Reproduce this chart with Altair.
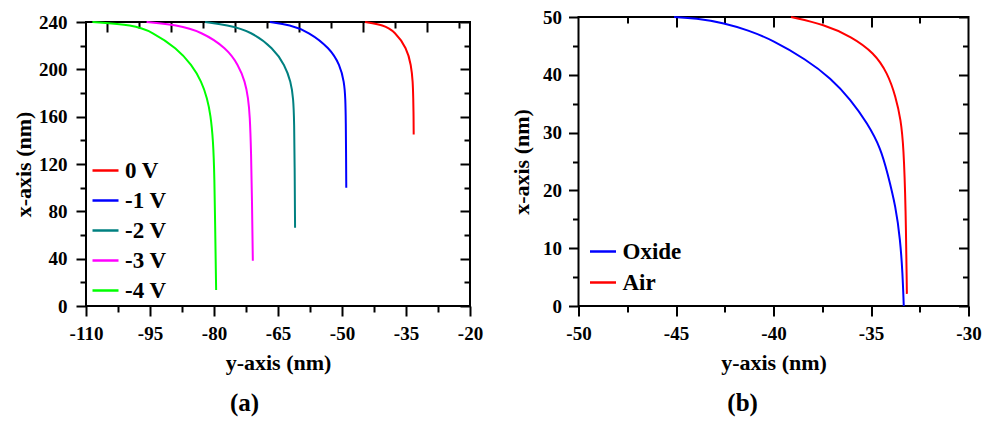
import altair as alt
import pandas as pd

FONT = "Liberation Serif"

# ---------------- Panel (a) data ----------------
series_a = ["0 V", "-1 V", "-2 V", "-3 V", "-4 V"]
colors_a = ["#FF0000", "#0000FF", "#008080", "#FF00FF", "#00FF00"]

a0_y = [-44.6, -40.3, -37.6, -34.8, -33.8, -33.4, -33.3, -33.22, -33.2]
a0_x = [240, 237.5, 231.9, 217.8, 203.7, 189.6, 175.6, 160, 145]

a1_y = [-66.9, -62.2, -57.9, -52.8, -50.5, -49.5, -49.2, -49.1, -49.05, -49.0]
a1_x = [240, 237.5, 231.9, 217.8, 203.7, 189.6, 175.6, 155, 130, 100]

a2_y = [-82.1, -77.0, -71.2, -66.1, -63.4, -62.0, -61.4, -61.2, -61.1, -61.0]
a2_x = [240, 237.5, 231.9, 217.8, 203.7, 189.6, 175.6, 155, 120, 66.2]

a3_y = [-95.8, -88.7, -83.0, -77.0, -74.3, -72.7, -72.0, -71.6, -71.3, -71.1, -70.9]
a3_x = [240, 237.5, 231.9, 217.8, 203.7, 189.6, 175.6, 161.5, 130, 90, 38.3]

a4_y = [-108.5, -98.9, -94.6, -88.7, -85.2, -82.9, -81.6, -80.8, -80.2, -79.9, -79.7, -79.5]
a4_x = [240, 237.5, 231.9, 217.8, 203.7, 189.6, 175.6, 161.5, 140, 110, 60, 13.5]

# ---------------- Panel (b) data ----------------
series_b = ["Oxide", "Air"]
colors_b = ["#0000FF", "#FF0000"]

ox_y = [-45.1, -44.0, -42.5, -41.3, -40.1, -38.3, -37.06, -36.04, -35.18, -34.5, -34.15, -33.73, -33.5, -33.38, -33.32]
ox_x = [50, 49.8, 48.95, 47.7, 46.1, 42.6, 39.4, 35.7, 31.6, 27.3, 22.95, 17.2, 11.4, 5.6, 0]

air_y = [-39.1, -37.4, -36.0, -34.84, -34.15, -33.73, -33.47, -33.33, -33.22, -33.16]
air_x = [50, 48.7, 46.6, 43.8, 40.3, 36.2, 32.2, 27.6, 17.2, 2.1]

# ---------------- Axis tick values ----------------
a_xdom = [-110, -20]
a_xmajor = [-110, -95, -80, -65, -50, -35, -20]
a_xminor = [-102.5, -87.5, -72.5, -57.5, -42.5, -27.5]
a_xtop_major = [-105, -90, -75, -60, -45, -30]
a_xtop_minor = [-97.5, -82.5, -67.5, -52.5, -37.5, -22.5]
a_ydom = [0, 240]
a_ymajor = [0, 40, 80, 120, 160, 200, 240]
a_yminor = [20, 60, 100, 140, 180, 220]

b_xdom = [-50, -30]
b_xmajor = [-50, -45, -40, -35, -30]
b_xminor = [-47.5, -42.5, -37.5, -32.5]
b_xtop_major = [-45, -40, -35]
b_ydom = [0, 50]
b_ymajor = [0, 10, 20, 30, 40, 50]
b_yminor = [5, 15, 25, 35, 45]


def make_df(names, ys, xs):
    rows = []
    for name, yy, xx in zip(names, ys, xs):
        for i, (a, b) in enumerate(zip(yy, xx)):
            rows.append({"series": name, "ypos": a, "xpos": b, "idx": i})
    return pd.DataFrame(rows)


df_a = make_df(series_a, [a0_y, a1_y, a2_y, a3_y, a4_y], [a0_x, a1_x, a2_x, a3_x, a4_x])
df_b = make_df(series_b, [ox_y, air_y], [ox_x, air_x])

lab = dict(labelFont=FONT, labelFontSize=19, labelFontWeight="bold", labelColor="black",
           labelExpr="'' + datum.value")
ttl = dict(titleFont=FONT, titleFontSize=22, titleFontWeight="bold", titleColor="black")


def panel(df, w, h, xdom, ydom, xmaj, xmin_, xtmaj, xtmin, ymaj, ymin_,
          cdom, crange, lx, ly, rowpad, caption, ylabpad, ytitlepad, capdx):
    xs = alt.Scale(domain=xdom, nice=False, zero=False)
    ys = alt.Scale(domain=ydom, nice=False, zero=False)

    def hidden(xaxis, yaxis):
        return alt.Chart(df).mark_line(strokeOpacity=0).encode(
            x=alt.X("ypos:Q", scale=xs, axis=xaxis),
            y=alt.Y("xpos:Q", scale=ys, axis=yaxis),
            detail="series:N",
            order="idx:Q",
        )

    main = alt.Chart(df).mark_line(strokeWidth=2, interpolate="basis").encode(
        x=alt.X("ypos:Q", scale=xs, axis=alt.Axis(
            values=xmaj, orient="bottom", title="y-axis (nm)", domain=False, grid=False,
            tickSize=10, tickWidth=2, tickColor="black", labelPadding=8, titlePadding=9,
            labelFlush=False, labelOverlap=False, **lab, **ttl)),
        y=alt.Y("xpos:Q", scale=ys, axis=alt.Axis(
            values=ymaj, orient="left", title="x-axis (nm)", domain=False, grid=False,
            tickSize=10, tickWidth=2, tickColor="black", labelPadding=ylabpad,
            titlePadding=ytitlepad, labelFlush=False, labelOverlap=False, **lab, **ttl)),
        color=alt.Color("series:N", scale=alt.Scale(domain=cdom, range=crange),
                        legend=alt.Legend(
                            orient="none", legendX=lx, legendY=ly, title=None,
                            symbolType="stroke", symbolSize=676, symbolStrokeWidth=2.5,
                            labelFont=FONT, labelFontSize=23, labelFontWeight="bold",
                            labelColor="black", labelOffset=5, rowPadding=rowpad,
                            padding=0)),
        order="idx:Q",
    )

    minor = hidden(
        alt.Axis(values=xmin_, orient="bottom", title=None, labels=False, domain=False,
                 grid=False, tickSize=6, tickWidth=2, tickColor="black"),
        alt.Axis(values=ymin_, orient="left", title=None, labels=False, domain=False,
                 grid=False, tickSize=6, tickWidth=2, tickColor="black"),
    )
    top_major = hidden(
        alt.Axis(values=xtmaj, orient="top", offset=-10, title=None, labels=False,
                 domain=False, grid=False, tickSize=10, tickWidth=2, tickColor="black"),
        alt.Axis(values=ymaj, orient="right", offset=-10, title=None, labels=False,
                 domain=False, grid=False, tickSize=10, tickWidth=2, tickColor="black"),
    )
    top_minor = hidden(
        alt.Axis(values=xtmin, orient="top", offset=-6, title=None, labels=False,
                 domain=False, grid=False, tickSize=6, tickWidth=2, tickColor="black"),
        alt.Axis(values=ymin_, orient="right", offset=-6, title=None, labels=False,
                 domain=False, grid=False, tickSize=6, tickWidth=2, tickColor="black"),
    )

    return alt.layer(main, minor, top_major, top_minor).resolve_axis(
        x="independent", y="independent"
    ).properties(
        width=w, height=h,
        title=alt.TitleParams(caption, orient="bottom", anchor="middle", frame="bounds",
                              font=FONT, fontSize=25, fontWeight="bold", color="black",
                              offset=18, dx=capdx),
    )


pa = panel(df_a, 384, 284, a_xdom, a_ydom, a_xmajor, a_xminor, a_xtop_major, a_xtop_minor,
           a_ymajor, a_yminor, series_a, colors_a, 5, 139, 3, "(a)", 9, 3, -3)
pb = panel(df_b, 390, 289, b_xdom, b_ydom, b_xmajor, b_xminor, b_xtop_major, b_xminor,
           b_ymajor, b_yminor, series_b, colors_b, 10, 220, 4, "(b)", 7, 9.5, -3)

spacer = alt.Chart(pd.DataFrame({"v": [0]})).mark_point(opacity=0, size=1).encode(
    x=alt.value(0), y=alt.value(0)
).properties(width=1, height=1, view=alt.ViewConfig(stroke="transparent"))

left = alt.vconcat(spacer, pa, spacing=4, bounds="flush")

chart = alt.hconcat(left, pb, spacing=24.5).resolve_scale(color="independent").properties(
    padding={"left": 11, "top": 7, "right": 0, "bottom": 0},
    background="white",
).configure_view(stroke="black", strokeWidth=2)

chart.save("out.html", embed_options={"renderer": "svg", "actions": False})
